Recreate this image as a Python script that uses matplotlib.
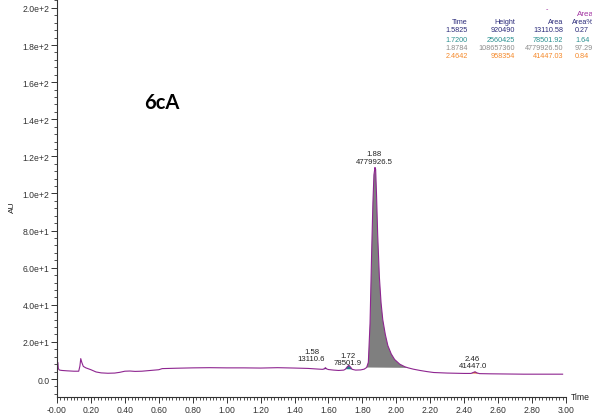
import matplotlib
matplotlib.use("Agg")
import matplotlib.pyplot as plt
from matplotlib.ticker import AutoMinorLocator, FixedLocator

plt.rcParams['font.family'] = ['Liberation Sans', 'DejaVu Sans']

# chromatogram trace (time in min, AU)
times = [0.000, 0.004, 0.008, 0.015, 0.03, 0.06, 0.10, 0.128, 0.135, 0.140, 0.146, 0.155,
         0.17, 0.20, 0.23, 0.26, 0.30, 0.34, 0.37, 0.40, 0.43, 0.46, 0.50, 0.55, 0.60,
         0.62, 0.66, 0.70, 0.75, 0.80, 0.90, 1.00, 1.10, 1.20, 1.30, 1.40, 1.48,
         1.53, 1.565, 1.575, 1.582, 1.59, 1.60, 1.63, 1.66, 1.69, 1.70, 1.71, 1.72,
         1.73, 1.74, 1.76, 1.79, 1.81, 1.825, 1.835, 1.845, 1.855, 1.862, 1.868,
         1.874, 1.878, 1.883, 1.89, 1.90, 1.91, 1.92, 1.935, 1.95, 1.97, 1.99,
         2.02, 2.05, 2.07, 2.10, 2.14, 2.18, 2.22, 2.30, 2.40, 2.44, 2.45, 2.464,
         2.475, 2.49, 2.55, 2.65, 2.75, 2.85, 2.98]
signal = [0.5, 9.0, 5.5, 4.8, 4.6, 4.4, 4.2, 4.2, 7.0, 11.0, 9.0, 6.8,
          6.0, 5.0, 3.8, 3.3, 3.1, 3.2, 3.6, 4.2, 4.3, 4.1, 4.2, 4.6, 5.0,
          5.6, 5.7, 5.8, 5.9, 6.0, 6.1, 6.0, 6.0, 5.9, 6.1, 5.9, 5.7,
          5.4, 5.2, 5.5, 6.1, 5.4, 5.1, 4.8, 4.6, 4.8, 5.3, 6.5, 7.4,
          6.4, 5.2, 4.8, 4.9, 5.3, 6.2, 9.0, 30.0, 70.0, 95.0, 110.0,
          114.0, 113.0, 100.0, 78.0, 55.0, 41.0, 32.0, 24.0, 18.0, 13.5, 10.5,
          8.0, 6.6, 6.0, 5.3, 4.6, 4.0, 3.5, 3.2, 3.0, 3.0, 3.4, 3.9,
          3.3, 2.9, 2.8, 2.7, 2.6, 2.6, 2.6]

# integrated peaks
peak_rt = ["1.58", "1.72", "1.88", "2.46"]
peak_area = ["13110.6", "78501.9", "4779926.5", "41447.0"]
peak_start = [1.565, 1.70, 1.825, 2.44]
peak_end = [1.59, 1.74, 2.07, 2.49]
peak_colors = ["#27275e", "#1f7f86", "#7f7f7f", "#e0601a"]
label_x = [1.50, 1.715, 1.87, 2.45]
label_y = [9.0, 6.8, 115.5, 5.2]

# summary table
tbl_time = ["1.5825", "1.7200", "1.8784", "2.4642"]
tbl_height = ["920490", "2560425", "108657360", "958354"]
tbl_area = ["13110.58", "78501.92", "4779926.50", "41447.03"]
tbl_pct = ["0.27", "1.64", "97.29", "0.84"]
tbl_colors = ["#2b2b7a", "#2a9090", "#8c8c8c", "#f5892a"]

xticks = [0.0, 0.2, 0.4, 0.6, 0.8, 1.0, 1.2, 1.4, 1.6, 1.8, 2.0, 2.2, 2.4, 2.6, 2.8, 3.0]
xlabels = ["-0.00"] + ["%.2f" % v for v in xticks[1:]]
yticks = [0, 20, 40, 60, 80, 100, 120, 140, 160, 180, 200]
ylabels = ["0.0", "2.0e+1", "4.0e+1", "6.0e+1", "8.0e+1", "1.0e+2",
           "1.2e+2", "1.4e+2", "1.6e+2", "1.8e+2", "2.0e+2"]

fig = plt.figure(figsize=(5.92, 4.14), dpi=100)
ax = fig.add_axes([57 / 592, 16 / 414, 509 / 592, 398 / 414])

trace_color = "#8e2590"
for s, e, c in zip(peak_start, peak_end, peak_colors):
    seg_t = [t for t in times if s <= t <= e]
    seg_y = [y for t, y in zip(times, signal) if s <= t <= e]
    ax.fill(seg_t, seg_y, color=c, lw=0, zorder=1)
ax.plot(times, signal, color=trace_color, lw=0.8, zorder=2)

for rt, area, x, y in zip(peak_rt, peak_area, label_x, label_y):
    ax.text(x, y, rt + "\n" + area, ha="center", va="bottom", fontsize=5.6,
            linespacing=1.15, color="#222222")

ax.set_xlim(0.0, 3.0)
ax.set_ylim(-9.7, 204.8)
ax.xaxis.set_major_locator(FixedLocator(xticks))
ax.set_xticklabels(xlabels)
ax.yaxis.set_major_locator(FixedLocator(yticks))
ax.set_yticklabels(ylabels)
ax.xaxis.set_minor_locator(AutoMinorLocator(10))
ax.yaxis.set_minor_locator(AutoMinorLocator(5))
ax.tick_params(which="major", length=4, width=0.7, labelsize=6.2, pad=1.5, colors="#333333")
ax.tick_params(which="minor", length=2, width=0.6, colors="#333333")
for side in ["top", "right"]:
    ax.spines[side].set_visible(False)
for side in ["left", "bottom"]:
    ax.spines[side].set_linewidth(0.8)
    ax.spines[side].set_color("#333333")

fig.text(12 / 592, 1 - 207 / 414, "AU", rotation=90, ha="center", va="center",
         fontsize=6.0, color="#222222")
fig.text(571 / 592, 1 - 398 / 414, "Time", ha="left", va="center",
         fontsize=6.2, color="#222222")
fig.text(144 / 592, 1 - 109 / 414, "6cA", ha="left", va="baseline",
         fontsize=14.5, fontweight="bold", family=["Lato", "DejaVu Sans"])

# peak table, top right
col_right = [468, 515, 563]
row_y = [23, 31, 40, 49, 57]
tfs = 5.2
fig.text(547 / 592, 1 - 10 / 414, "-", color="#a030a0", fontsize=tfs, ha="center", va="center")
fig.text(577 / 592, 1 - 15 / 414, "Area", color="#a030a0", fontsize=5.8, ha="left", va="center")
headers = ["Time", "Height", "Area"]
for h, xr in zip(headers, col_right):
    fig.text(xr / 592, 1 - row_y[0] / 414, h, color="#2b2b7a", fontsize=tfs, ha="right", va="center")
fig.text(572 / 592, 1 - row_y[0] / 414, "Area%", color="#2b2b7a", fontsize=tfs, ha="left", va="center")
for i in range(len(tbl_time)):
    yy = 1 - row_y[i + 1] / 414
    c = tbl_colors[i]
    fig.text(col_right[0] / 592, yy, tbl_time[i], color=c, fontsize=tfs, ha="right", va="center")
    fig.text(col_right[1] / 592, yy, tbl_height[i], color=c, fontsize=tfs, ha="right", va="center")
    fig.text(col_right[2] / 592, yy, tbl_area[i], color=c, fontsize=tfs, ha="right", va="center")
    fig.text(575 / 592, yy, tbl_pct[i], color=c, fontsize=tfs, ha="left", va="center")

fig.savefig("out.png", dpi=100)
